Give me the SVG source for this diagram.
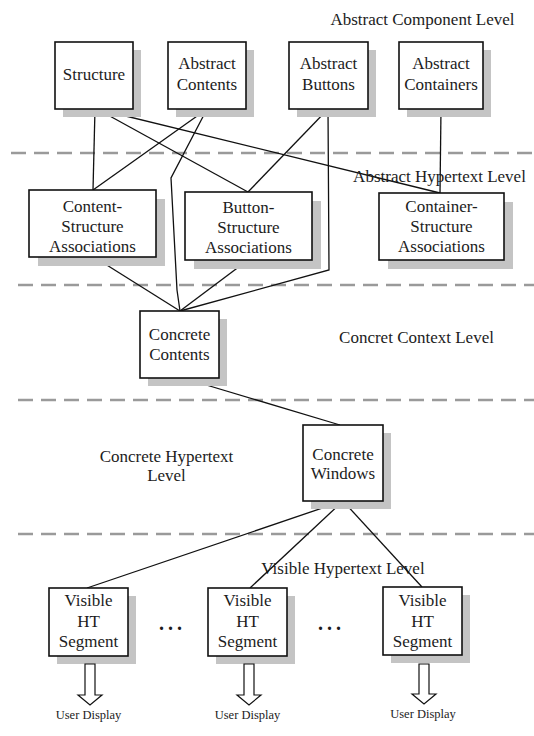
<svg xmlns="http://www.w3.org/2000/svg" width="534" height="736" viewBox="0 0 534 736">
  <style>
    .bg { fill: #ffffff; }
    .shadow { fill: #c4c4c4; }
    .box { fill: #ffffff; stroke: #111111; stroke-width: 1.6; }
    .label { font-family: "Liberation Serif", "Times New Roman", serif; font-size: 17px; fill: #1c1c1c; text-anchor: middle; }
    .level { font-family: "Liberation Serif", "Times New Roman", serif; font-size: 17px; fill: #1c1c1c; text-anchor: middle; }
    .small { font-family: "Liberation Serif", "Times New Roman", serif; font-size: 12.5px; fill: #1c1c1c; text-anchor: middle; }
    .dots { font-family: "Liberation Serif", "Times New Roman", serif; font-size: 20px; font-weight: bold; fill: #1c1c1c; letter-spacing: 4px; }
    .sep { stroke: #9a9a9a; stroke-width: 2.5; stroke-dasharray: 15 8; fill: none; }
    .conn { stroke: #111111; stroke-width: 1.3; fill: none; }
    .out { fill: #ffffff; stroke: #111111; stroke-width: 1.2; }
  </style>

  <rect class="bg" x="0" y="0" width="534" height="736"/>

  <!-- level separators -->
  <g id="separators">
    <line class="sep" x1="11" y1="153" x2="534" y2="153"/>
    <line class="sep" x1="18" y1="285" x2="534" y2="285"/>
    <line class="sep" x1="18" y1="400" x2="534" y2="400"/>
    <line class="sep" x1="18" y1="534" x2="534" y2="534"/>
  </g>

  <!-- level captions -->
  <g id="levels">
    <text class="level" x="422.5" y="25">Abstract Component Level</text>
    <text class="level" x="343" y="574">Visible Hypertext Level</text>
    <text class="level" x="416.5" y="343">Concret Context Level</text>
    <text class="level" x="166.5" y="462">Concrete Hypertext</text>
    <text class="level" x="166.5" y="481">Level</text>
  </g>

  <!-- connectors -->
  <g id="connectors">
    <line class="conn" x1="95" y1="109" x2="93" y2="190"/>
    <line class="conn" x1="97" y1="109" x2="248" y2="192"/>
    <line class="conn" x1="97" y1="109" x2="440" y2="193"/>
    <line class="conn" x1="207" y1="109" x2="93" y2="190"/>
    <polyline class="conn" points="207,109 171,178 177,290 180,311"/>
    <line class="conn" x1="328" y1="109" x2="248" y2="192"/>
    <polyline class="conn" points="328,109 329,270 180,311"/>
    <line class="conn" x1="441" y1="109" x2="440" y2="193"/>
    <line class="conn" x1="94" y1="257" x2="180" y2="311"/>
    <line class="conn" x1="248" y1="260" x2="180" y2="311"/>
    <line class="conn" x1="183" y1="378" x2="340" y2="425"/>
    <line class="conn" x1="343" y1="501" x2="87" y2="588"/>
    <line class="conn" x1="343" y1="501" x2="250" y2="588"/>
    <line class="conn" x1="343" y1="501" x2="422" y2="587"/>
  </g>

  <!-- Abstract Component Level nodes -->
  <g id="structure">
    <rect class="shadow" x="63" y="50" width="78" height="67"/>
    <rect class="box" x="55" y="42" width="78" height="67"/>
    <text class="label" x="94" y="80">Structure</text>
  </g>
  <g id="abstract-contents">
    <rect class="shadow" x="176" y="50" width="78" height="67"/>
    <rect class="box" x="168" y="42" width="78" height="67"/>
    <text class="label" x="207" y="69">Abstract</text>
    <text class="label" x="207" y="90">Contents</text>
  </g>
  <g id="abstract-buttons">
    <rect class="shadow" x="297" y="50" width="79" height="67"/>
    <rect class="box" x="289" y="42" width="79" height="67"/>
    <text class="label" x="328.5" y="69">Abstract</text>
    <text class="label" x="328.5" y="90">Buttons</text>
  </g>
  <g id="abstract-containers">
    <rect class="shadow" x="407" y="50" width="84" height="67"/>
    <rect class="box" x="399" y="42" width="84" height="67"/>
    <text class="label" x="441" y="69">Abstract</text>
    <text class="label" x="441" y="90">Containers</text>
  </g>

  <!-- Abstract Hypertext Level nodes -->
  <g id="abstract-hypertext-caption">
    <text class="level" x="439.5" y="182">Abstract Hypertext Level</text>
  </g>
  <g id="content-structure">
    <rect class="shadow" x="38" y="199" width="127" height="67"/>
    <rect class="box" x="29" y="190" width="127" height="67"/>
    <text class="label" x="92.5" y="212">Content-</text>
    <text class="label" x="92.5" y="232">Structure</text>
    <text class="label" x="92.5" y="252">Associations</text>
  </g>
  <g id="button-structure">
    <rect class="shadow" x="194" y="201" width="127" height="68"/>
    <rect class="box" x="185" y="192" width="127" height="68"/>
    <text class="label" x="248.5" y="213">Button-</text>
    <text class="label" x="248.5" y="233">Structure</text>
    <text class="label" x="248.5" y="253">Associations</text>
  </g>
  <g id="container-structure">
    <rect class="shadow" x="388" y="202" width="125" height="67"/>
    <rect class="box" x="379" y="193" width="125" height="67"/>
    <text class="label" x="441.5" y="212">Container-</text>
    <text class="label" x="441.5" y="232">Structure</text>
    <text class="label" x="441.5" y="252">Associations</text>
  </g>

  <!-- Concrete levels -->
  <g id="concrete-contents">
    <rect class="shadow" x="148" y="319" width="79" height="67"/>
    <rect class="box" x="140" y="311" width="79" height="67"/>
    <text class="label" x="179.5" y="340">Concrete</text>
    <text class="label" x="179.5" y="360">Contents</text>
  </g>
  <g id="concrete-windows">
    <rect class="shadow" x="311" y="433" width="80" height="76"/>
    <rect class="box" x="303" y="425" width="80" height="76"/>
    <text class="label" x="343" y="460">Concrete</text>
    <text class="label" x="343" y="479">Windows</text>
  </g>

  <!-- Visible Hypertext Level nodes -->
  <g id="visible-segment-1">
    <rect class="shadow" x="57" y="596" width="79" height="68"/>
    <rect class="box" x="49" y="588" width="79" height="68"/>
    <text class="label" x="88.5" y="606">Visible</text>
    <text class="label" x="88.5" y="627">HT</text>
    <text class="label" x="88.5" y="647">Segment</text>
    <polygon class="out" points="85,664 95,664 95,695 102,695 90,705 78,695 85,695"/>
    <text class="small" x="88.5" y="719">User Display</text>
  </g>
  <g id="visible-segment-2">
    <rect class="shadow" x="216" y="596" width="79" height="68"/>
    <rect class="box" x="208" y="588" width="79" height="68"/>
    <text class="label" x="247.5" y="606">Visible</text>
    <text class="label" x="247.5" y="627">HT</text>
    <text class="label" x="247.5" y="647">Segment</text>
    <polygon class="out" points="244,664 254,664 254,695 261,695 249,705 237,695 244,695"/>
    <text class="small" x="247.5" y="719">User Display</text>
  </g>
  <g id="visible-segment-3">
    <rect class="shadow" x="391" y="595" width="79" height="68"/>
    <rect class="box" x="383" y="587" width="79" height="68"/>
    <text class="label" x="422.5" y="606">Visible</text>
    <text class="label" x="422.5" y="627">HT</text>
    <text class="label" x="422.5" y="647">Segment</text>
    <polygon class="out" points="419,664 429,664 429,694 436,694 424,704 412,694 419,694"/>
    <text class="small" x="423" y="718">User Display</text>
  </g>

  <!-- ellipses between segments -->
  <g id="ellipses">
    <text class="dots" x="159" y="630">...</text>
    <text class="dots" x="318" y="630">...</text>
  </g>
</svg>
